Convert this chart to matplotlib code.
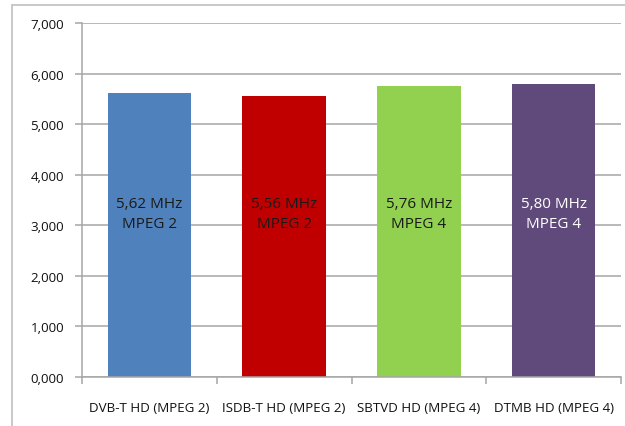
import matplotlib.pyplot as plt
from matplotlib.patches import Rectangle
from matplotlib.ticker import FuncFormatter

categories = ['DVB-T HD (MPEG 2)', 'ISDB-T HD (MPEG 2)', 'SBTVD HD (MPEG 4)', 'DTMB HD (MPEG 4)']
values = [5620, 5560, 5760, 5800]
bar_labels = ['5,62 MHz\nMPEG 2', '5,56 MHz\nMPEG 2', '5,76 MHz\nMPEG 4', '5,80 MHz\nMPEG 4']
colors = ['#4f81bd', '#c00000', '#92d050', '#604a7b']
label_colors = ['#1a1a1a', '#1a1a1a', '#1a1a1a', 'white']

plt.rcParams['font.family'] = ['Open Sans', 'DejaVu Sans']

fig = plt.figure(figsize=(6.25, 4.27), dpi=100)
# outer chart frame
fig.patches.append(Rectangle((12 / 625, -0.1), 1.2, 1 - 6 / 427 + 0.1, transform=fig.transFigure,
                             fill=False, edgecolor='#bfbfbf', linewidth=1.2))

ax = fig.add_axes([82 / 625, 49 / 427, 539 / 625, 354 / 427])
x = range(len(categories))
ax.bar(x, values, width=0.62, color=colors, zorder=2)
for i, (v, lab) in enumerate(zip(values, bar_labels)):
    ax.text(i, 3240, lab, ha='center', va='center', fontsize=11, color=label_colors[i],
            linespacing=1.45, zorder=3)

ax.set_xlim(-0.5, 3.5)
ax.set_ylim(0, 7000)
ax.set_yticks(range(0, 7001, 1000))
ax.yaxis.set_major_formatter(FuncFormatter(lambda v, p: f'{int(v) // 1000},000'))
ax.grid(axis='y', color='#a6a6a6', linewidth=1.1, zorder=0)
ax.set_xticks([-0.5, 0.5, 1.5, 2.5, 3.5])
ax.set_xticklabels([])
ax.set_xticks(list(x), minor=True)
ax.set_xticklabels(categories, minor=True, fontsize=9.6, color='#111111')
ax.tick_params(axis='x', which='minor', length=0, pad=17)
ax.tick_params(axis='x', which='major', length=5, color='#a6a6a6', width=1.1)
ax.tick_params(axis='y', length=5, color='#a6a6a6', width=1.1, labelsize=9.6, pad=8,
               labelcolor='#111111')
for s in ['top', 'right']:
    ax.spines[s].set_visible(False)
for s in ['left', 'bottom']:
    ax.spines[s].set_color('#a6a6a6')
    ax.spines[s].set_linewidth(1.1)

fig.savefig('out.png', dpi=100)
